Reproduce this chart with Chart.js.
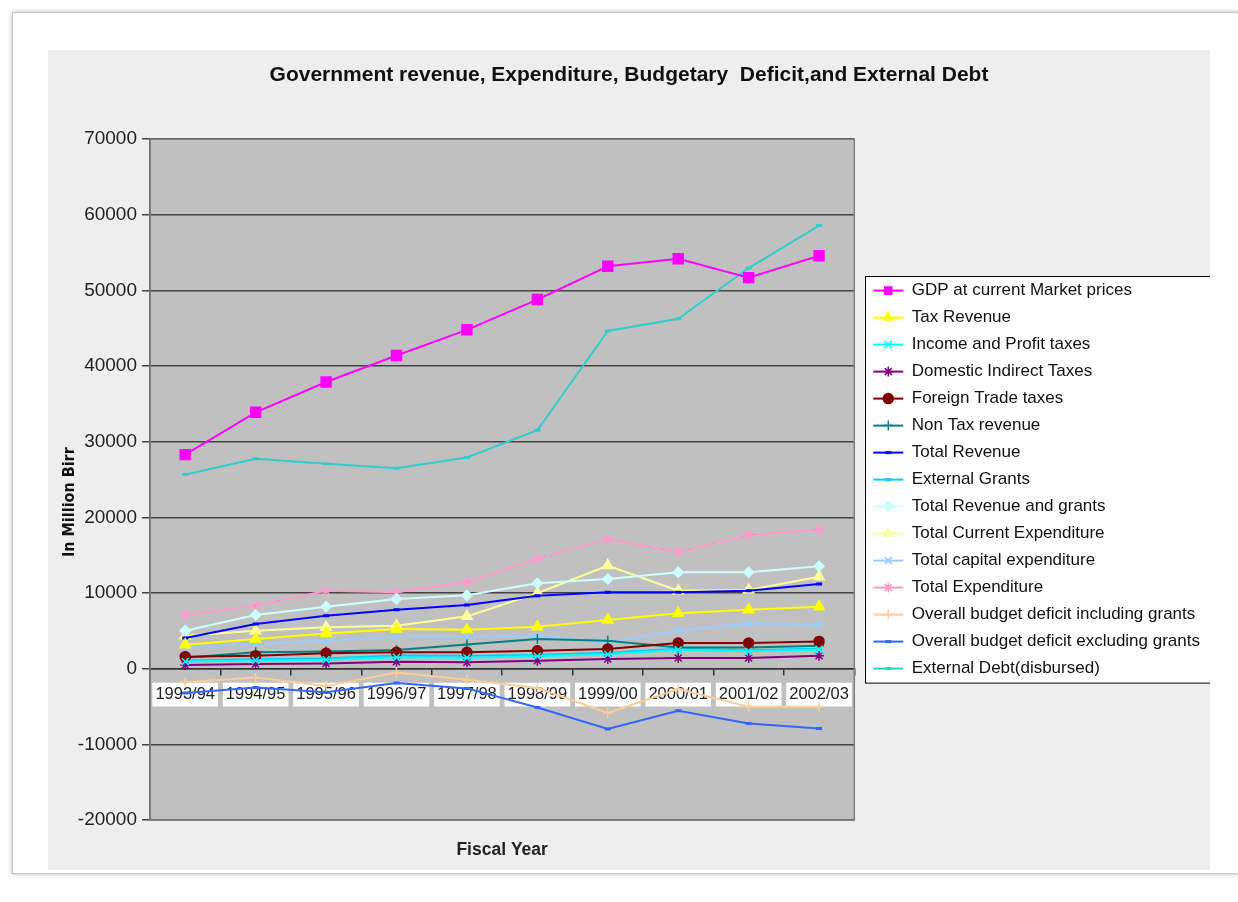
<!DOCTYPE html>
<html>
<head>
<meta charset="utf-8">
<script src="https://cdn.jsdelivr.net/npm/chart.js@4.4.0/dist/chart.umd.min.js"></script>
<style>
    html, body { margin: 0; padding: 0; background: #fff; }
    body { width: 1238px; height: 902px; position: relative; overflow: hidden; }
    .frame {
        position: absolute; left: 12px; top: 12px; width: 1240px; height: 860px;
        border: 1px solid #c4c4c4; box-shadow: 0 0 5px rgba(0,0,0,0.25);
    }
    .wrap { position: absolute; left: 48px; top: 50px; width: 1162px; height: 820px; background: #eeeeee; }
</style>
</head>
<body>
<div class="frame"></div>
<div class="wrap"><canvas id="budgetChart" width="1162" height="820"></canvas></div>
<script>
const fiscalYears = ["1993/94", "1994/95", "1995/96", "1996/97", "1997/98", "1998/99", "1999/00", "2000/01", "2001/02", "2002/03"];

const gdpMarketPrices = [28300, 33900, 37900, 41400, 44800, 48800, 53200, 54200, 51700, 54600];
const taxRevenue = [3180, 3930, 4670, 5250, 5150, 5560, 6440, 7320, 7800, 8200];
const incomeProfitTaxes = [950, 1100, 1200, 1500, 1450, 1650, 1900, 2500, 2300, 2550];
const domesticIndirectTaxes = [490, 620, 700, 930, 840, 1060, 1280, 1410, 1410, 1720];
const foreignTradeTaxes = [1590, 1720, 2030, 2160, 2160, 2380, 2600, 3400, 3400, 3610];
const nonTaxRevenue = [1450, 2160, 2290, 2470, 3200, 3930, 3700, 2820, 2820, 3040];
const totalRevenue = [4060, 5910, 7010, 7800, 8430, 9660, 10100, 10100, 10320, 11200];
const externalGrants = [1100, 1250, 1350, 1750, 1700, 1800, 2100, 2650, 2450, 2650];
const revenueAndGrants = [5030, 7100, 8200, 9200, 9700, 11290, 11870, 12750, 12750, 13550];
const currentExpenditure = [4370, 5030, 5470, 5690, 6920, 9970, 13630, 10320, 10410, 12170];
const capitalExpenditure = [2820, 3260, 3700, 4230, 4230, 4370, 3480, 5030, 5990, 5820];
const totalExpenditure = [7100, 8340, 10300, 10100, 11450, 14520, 17160, 15390, 17690, 18390];
const deficitInclGrants = [-1800, -1150, -2300, -490, -1460, -2550, -5860, -2700, -5030, -5030];
const deficitExclGrants = [-3200, -2500, -3100, -1900, -2600, -5120, -7980, -5560, -7230, -7900];
const externalDebt = [25670, 27750, 27090, 26510, 27920, 31530, 44640, 46270, 52970, 58580];

const yMin = -20000;
const yMax = 70000;
const yStep = 10000;

const FONT = "'Liberation Sans', Arial, sans-serif";
const NARROW = "'Liberation Sans Narrow', 'DejaVu Sans Condensed', 'Arial Narrow', sans-serif";

// label, values, colour, marker, marker radius
const series = [
    ["GDP at current Market prices", gdpMarketPrices, "#ff00ff", "rect", 7],
    ["Tax Revenue", taxRevenue, "#ffff00", "triangle", 6],
    ["Income and Profit taxes", incomeProfitTaxes, "#00ffff", "crossRot", 5],
    ["Domestic Indirect Taxes", domesticIndirectTaxes, "#800080", "star", 5],
    ["Foreign Trade taxes", foreignTradeTaxes, "#800000", "circle", 5],
    ["Non Tax revenue", nonTaxRevenue, "#008080", "cross", 5],
    ["Total Revenue", totalRevenue, "#0000ff", "line", 3],
    ["External Grants", externalGrants, "#00ccff", "line", 3],
    ["Total Revenue and grants", revenueAndGrants, "#ccffff", "rectRot", 5],
    ["Total Current Expenditure", currentExpenditure, "#ffff99", "triangle", 6],
    ["Total capital expenditure", capitalExpenditure, "#99ccff", "crossRot", 5],
    ["Total Expenditure", totalExpenditure, "#ff99cc", "star", 5],
    ["Overall budget deficit including grants", deficitInclGrants, "#ffcc99", "cross", 5],
    ["Overall budget deficit excluding grants", deficitExclGrants, "#3366ff", "line", 3],
    ["External Debt(disbursed)", externalDebt, "#33cccc", "line", 3],
];

const datasets = series.map(([label, data, color, marker, radius]) => ({
    label,
    data,
    borderColor: color,
    backgroundColor: color,
    borderWidth: 2,
    pointStyle: marker,
    pointRadius: radius,
    pointHoverRadius: radius,
    pointBackgroundColor: color,
    pointBorderColor: color,
    pointBorderWidth: marker === "line" ? 3 : 1.5,
    tension: 0,
}));

const chartDecor = {
    id: "chartDecor",
    beforeDraw(chart) {
        const { ctx, chartArea: area } = chart;
        ctx.save();
        ctx.fillStyle = "#c0c0c0";
        ctx.fillRect(area.left, area.top, area.right - area.left, area.bottom - area.top);
        const boxes = chart.legend && chart.legend.legendHitBoxes;
        if (boxes && boxes.length) {
            const first = boxes[0];
            const last = boxes[boxes.length - 1];
            const x0 = Math.round(first.left - 8) + 0.5;
            const y0 = Math.round(first.top - 6) + 0.5;
            const h = last.top + last.height + 6 - y0;
            ctx.fillStyle = "#ffffff";
            ctx.fillRect(x0, y0, chart.width - x0 + 2, h);
            ctx.strokeStyle = "#000";
            ctx.lineWidth = 1;
            ctx.strokeRect(x0, y0, chart.width - x0 + 2, h);
        }
        ctx.restore();
    },
    beforeDatasetsDraw(chart) {
        const { ctx, chartArea: area } = chart;
        ctx.save();
        ctx.strokeStyle = "#808080";
        ctx.lineWidth = 1.5;
        ctx.strokeRect(area.left, area.top, area.right - area.left, area.bottom - area.top);
        ctx.restore();
    },
    afterDraw(chart) {
        const legend = chart.legend;
        if (!legend || !legend.legendHitBoxes) return;
        const { ctx } = chart;
        const drawPoint = Chart.helpers && Chart.helpers.drawPoint;
        legend.legendItems.forEach((item, i) => {
            const ds = chart.data.datasets[item.datasetIndex];
            const hb = legend.legendHitBoxes[i];
            const y = hb.top + hb.height / 2;
            ctx.save();
            ctx.strokeStyle = ds.borderColor;
            ctx.lineWidth = 2;
            ctx.beginPath();
            ctx.moveTo(hb.left, y);
            ctx.lineTo(hb.left + 30, y);
            ctx.stroke();
            ctx.fillStyle = ds.pointBackgroundColor;
            ctx.strokeStyle = ds.pointBorderColor;
            ctx.lineWidth = ds.pointBorderWidth;
            if (drawPoint) {
                drawPoint(ctx, { pointStyle: ds.pointStyle, radius: Math.min(ds.pointRadius, 5), borderWidth: ds.pointBorderWidth, rotation: 0 }, hb.left + 15, y);
            }
            ctx.restore();
        });
    },
};

new Chart(document.getElementById("budgetChart"), {
    type: "line",
    data: { labels: fiscalYears, datasets },
    plugins: [chartDecor],
    options: {
        responsive: false,
        animation: false,
        devicePixelRatio: 1,
        layout: { padding: { left: 0, right: 0, top: 0, bottom: 0 } },
        font: { family: FONT },
        plugins: {
            tooltip: { enabled: false },
            title: {
                display: true,
                text: "Government revenue, Expenditure, Budgetary  Deficit,and External Debt",
                color: "#111",
                font: { family: FONT, size: 21, weight: "bold" },
                padding: { top: 13, bottom: 51 },
            },
            legend: {
                position: "right",
                fullSize: false,
                align: "center",
                maxWidth: 400,
                labels: {
                    boxWidth: 30,
                    boxHeight: 15,
                    padding: 10,
                    color: "#111",
                    font: { family: FONT, size: 17 },
                    generateLabels(chart) {
                        return Chart.defaults.plugins.legend.labels.generateLabels(chart).map((item) => ({
                            ...item,
                            fillStyle: "rgba(0,0,0,0)",
                            strokeStyle: "rgba(0,0,0,0)",
                            lineWidth: 0,
                        }));
                    },
                },
            },
        },
        scales: {
            x: {
                type: "category",
                position: { y: 0 },
                offset: true,
                grid: { display: true, drawOnChartArea: false, drawTicks: true, tickLength: 6, offset: true, color: "#333", lineWidth: 1.5 },
                border: { display: true, color: "#333", width: 1.5 },
                ticks: {
                    autoSkip: false,
                    maxRotation: 0,
                    padding: 10,
                    color: "#222",
                    font: { family: FONT, size: 16.5 },
                    showLabelBackdrop: true,
                    backdropColor: "#ffffff",
                    backdropPadding: { x: 3, y: 2 },
                },
            },
            x2: {
                type: "category",
                axis: "x",
                position: "bottom",
                grid: { display: false, drawTicks: false },
                border: { display: false },
                ticks: { display: false },
                title: {
                    display: true,
                    text: "Fiscal Year",
                    color: "#222",
                    font: { family: FONT, size: 17.5, weight: "bold" },
                    padding: { top: 20, bottom: 9 },
                },
            },
            y: {
                min: yMin,
                max: yMax,
                ticks: {
                    stepSize: yStep,
                    color: "#222",
                    padding: 5,
                    font: { family: FONT, size: 19 },
                    callback: (value) => String(value),
                },
                grid: { color: "#444", lineWidth: 1.5, tickLength: 8 },
                border: { display: true, color: "#444", width: 1.5 },
                title: {
                    display: true,
                    text: "In Million Birr\u00a0\u00a0\u00a0\u00a0\u00a0\u00a0\u00a0\u00a0\u00a0",
                    color: "#111",
                    font: { family: NARROW, size: 16, weight: "bold" },
                    padding: { top: 12, bottom: 0 },
                },
                afterFit(scale) {
                    scale.width = 102;
                },
            },
            y2: {
                position: "right",
                grid: { display: false, drawTicks: false },
                border: { display: false },
                ticks: { display: false },
                afterFit(scale) {
                    scale.width = 9;
                },
            },
        },
    },
});
</script>
</body>
</html>
